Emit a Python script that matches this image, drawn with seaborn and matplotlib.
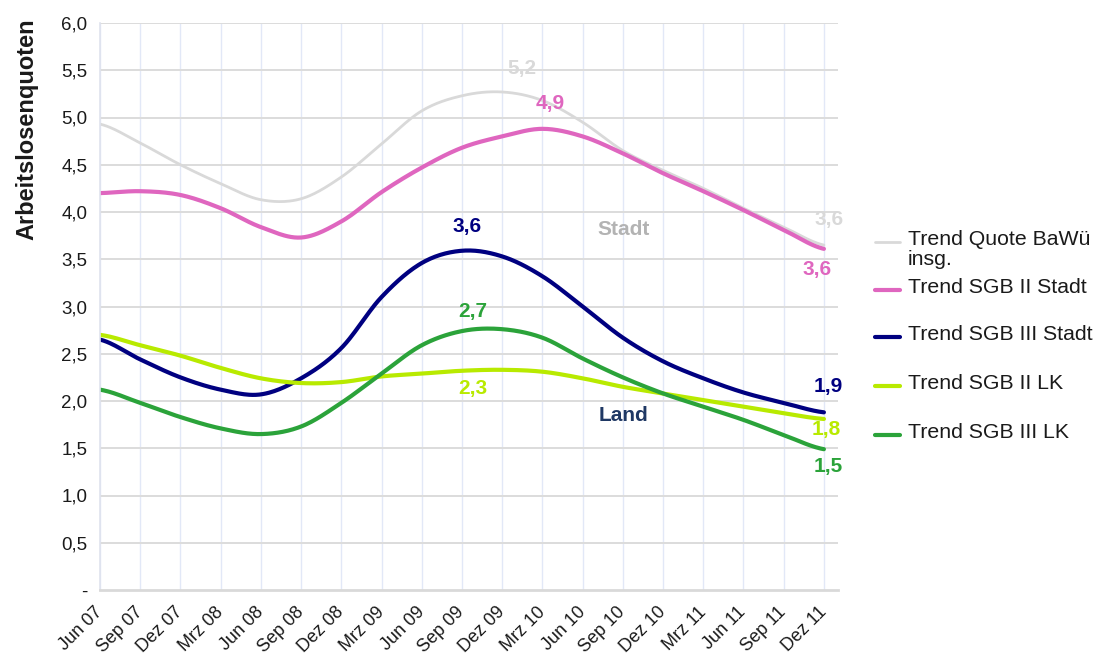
import numpy as np
import pandas as pd
import matplotlib
matplotlib.use("Agg")
import matplotlib.pyplot as plt
import matplotlib.transforms as mtransforms
import seaborn as sns
from matplotlib.lines import Line2D

# ---------------- data (quarterly, Jun 07 .. Dez 11) ----------------
quarters = ["Jun 07", "Sep 07", "Dez 07", "Mrz 08", "Jun 08", "Sep 08", "Dez 08",
            "Mrz 09", "Jun 09", "Sep 09", "Dez 09", "Mrz 10", "Jun 10", "Sep 10",
            "Dez 10", "Mrz 11", "Jun 11", "Sep 11", "Dez 11"]

quote_bawue = [4.93, 4.73, 4.50, 4.30, 4.13, 4.14, 4.37, 4.72, 5.07, 5.23, 5.27,
               5.18, 4.95, 4.65, 4.44, 4.25, 4.04, 3.84, 3.65]
sgb2_stadt = [4.20, 4.22, 4.18, 4.04, 3.84, 3.73, 3.90, 4.21, 4.47, 4.68, 4.80,
              4.88, 4.80, 4.62, 4.41, 4.22, 4.02, 3.81, 3.61]
sgb3_stadt = [2.65, 2.44, 2.25, 2.12, 2.07, 2.24, 2.56, 3.10, 3.46, 3.59, 3.53,
              3.32, 3.00, 2.67, 2.42, 2.24, 2.09, 1.98, 1.88]
sgb2_lk = [2.70, 2.59, 2.48, 2.35, 2.24, 2.19, 2.20, 2.26, 2.29, 2.32, 2.33,
           2.31, 2.24, 2.15, 2.08, 2.01, 1.94, 1.87, 1.81]
sgb3_lk = [2.12, 1.98, 1.83, 1.71, 1.65, 1.73, 1.98, 2.29, 2.59, 2.74, 2.76,
           2.67, 2.45, 2.25, 2.08, 1.94, 1.80, 1.64, 1.49]

series_names = ["Trend Quote BaWü insg.", "Trend SGB II Stadt", "Trend SGB III Stadt",
                "Trend SGB II LK", "Trend SGB III LK"]
legend_labels = ["Trend Quote BaWü\ninsg.", "Trend SGB II Stadt", "Trend SGB III Stadt",
                 "Trend SGB II LK", "Trend SGB III LK"]
series_values = [quote_bawue, sgb2_stadt, sgb3_stadt, sgb2_lk, sgb3_lk]
colors = ["#d9d9d9", "#df66bf", "#000080", "#b8ea00", "#2ba33a"]
widths = [2.0, 3.0, 3.0, 3.0, 3.0]

# data labels: (text, x-position in quarters, y-value, colour)
value_labels = [("5,2", 10.5, 5.52, "#d9d9d9"), ("4,9", 11.2, 5.15, "#df66bf"),
                ("3,6", 9.12, 3.85, "#000080"), ("3,6", 18.12, 3.92, "#d9d9d9"),
                ("3,6", 17.82, 3.39, "#df66bf"), ("2,7", 9.27, 2.95, "#2ba33a"),
                ("2,3", 9.27, 2.13, "#b8ea00"), ("1,9", 18.12, 2.15, "#000080"),
                ("1,8", 18.07, 1.70, "#b8ea00"), ("1,5", 18.12, 1.31, "#2ba33a")]
group_labels = [("Stadt", 13.02, 3.81, "#b3b3b3"), ("Land", 13.02, 1.85, "#1f3864")]


def smooth_line(values, n=24):
    """Excel-style smoothed line rendering (Catmull-Rom through the points)."""
    y = np.asarray(values, float)
    xs, ys = [], []
    m = len(y)
    for i in range(m - 1):
        p0 = y[i - 1] if i > 0 else y[i]
        p1, p2 = y[i], y[i + 1]
        p3 = y[i + 2] if i + 2 < m else y[i + 1]
        t = np.linspace(0, 1, n, endpoint=False)
        seg = 0.5 * (2 * p1 + (-p0 + p2) * t + (2 * p0 - 5 * p1 + 4 * p2 - p3) * t ** 2
                     + (-p0 + 3 * p1 - 3 * p2 + p3) * t ** 3)
        xs.append(i + t)
        ys.append(seg)
    xs.append([m - 1])
    ys.append([y[-1]])
    return np.concatenate(xs), np.concatenate(ys)


frames = []
for name, vals in zip(series_names, series_values):
    xs, ys = smooth_line(vals)
    frames.append(pd.DataFrame({"x": xs, "y": ys, "series": name}))
df = pd.concat(frames, ignore_index=True)

# ---------------- figure ----------------
sns.set_theme(style="white")
plt.rcParams["font.family"] = ["Liberation Sans", "DejaVu Sans"]

W, H = 1097, 655
fig = plt.figure(figsize=(W / 100, H / 100), dpi=100)
ax = fig.add_axes([100 / W, 65 / H, 738 / W, 567 / H])

for name, col, lw in zip(series_names, colors, widths):
    sns.lineplot(data=df[df["series"] == name], x="x", y="y", color=col,
                 linewidth=lw, sort=False, estimator=None, ax=ax, legend=False)

ax.set_xlim(0, 18.35)
ax.set_ylim(0, 6)

# grid
for i in range(len(quarters)):
    ax.axvline(i, color="#e2e8f7", lw=1.0, zorder=0)
for v in np.arange(0.5, 6.01, 0.5):
    ax.axhline(v, color="#dcdcdc", lw=1.4, zorder=0)

ax.set_xticks(range(len(quarters)))
ax.set_xticklabels(quarters, rotation=45, ha="right", va="center",
                   rotation_mode="anchor", fontsize=13, color="#1a1a1a")
shift = mtransforms.ScaledTranslation(-5 / 100, 0, fig.dpi_scale_trans)
for lab in ax.get_xticklabels():
    lab.set_transform(lab.get_transform() + shift)
yt = np.arange(0, 6.01, 0.5)
ax.set_yticks(yt)
ax.set_yticklabels(["-" if v == 0 else f"{v:.1f}".replace(".", ",") for v in yt],
                   fontsize=13.5, color="#1a1a1a")
ax.tick_params(axis="y", length=0, pad=9)
ax.tick_params(axis="x", length=0, pad=14)

ax.set_xlabel("")
ax.set_ylabel("Arbeitslosenquoten", fontsize=17, fontweight="bold", va="center",
              color="#1a1a1a")
ax.yaxis.set_label_coords((27 - 100) / 738, (590 - 129) / 567)

for s in ["top", "right"]:
    ax.spines[s].set_visible(False)
ax.spines["left"].set_color("#dfe3ee")
ax.spines["left"].set_linewidth(1.2)
ax.spines["bottom"].set_color("#d9d9d9")
ax.spines["bottom"].set_linewidth(2)

for txt, x, y, c in value_labels + group_labels:
    ax.text(x, y, txt, color=c, fontsize=15, fontweight="bold",
            ha="center", va="center", clip_on=False)

# legend (Excel style: handle aligned to the first text line)
leg_y = [242, 290, 337, 386, 435]
for lab, col, lw, yy in zip(legend_labels, colors, widths, leg_y):
    fig.add_artist(Line2D([875 / W, 900 / W], [1 - yy / H, 1 - yy / H],
                          color=col, lw=lw, transform=fig.transFigure))
    fig.text(908 / W, 1 - (yy - 12) / H, lab, fontsize=15.3, color="#1a1a1a",
             ha="left", va="top", linespacing=1.1)

fig.savefig("out.png", dpi=100)
